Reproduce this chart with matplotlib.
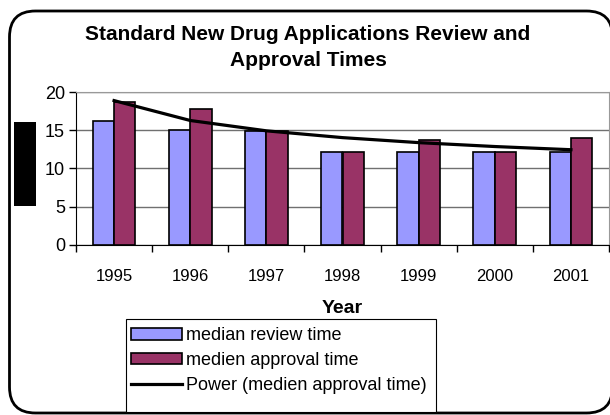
import numpy as np
import matplotlib
matplotlib.use("Agg")
from matplotlib import pyplot as plt
from matplotlib.patches import FancyBboxPatch, Rectangle, Patch
from matplotlib.lines import Line2D
from matplotlib.transforms import IdentityTransform

plt.rcParams['font.family'] = ['Liberation Sans', 'DejaVu Sans']

years = ["1995", "1996", "1997", "1998", "1999", "2000", "2001"]
review_time = [16.2, 15.1, 14.9, 12.1, 12.1, 12.1, 12.1]
approval_time = [18.7, 17.8, 14.9, 12.1, 13.7, 12.1, 14.0]

W, H = 610, 415
fig = plt.figure(figsize=(W / 100, H / 100), dpi=100)

# rounded chart frame
frame = FancyBboxPatch((9.5, 2), 603, 402, boxstyle="round,pad=0,rounding_size=26",
                       transform=IdentityTransform(), facecolor="white",
                       edgecolor="black", linewidth=2, zorder=-5)
fig.patches.append(frame)

ax = fig.add_axes([76 / W, 1 - 244.7 / H, 533 / W, (244.7 - 92.3) / H])
ax.set_facecolor("white")

x = np.arange(len(years))
w = 0.28
ax.bar(x - w / 2, review_time, w, color="#9999FF", edgecolor="black", linewidth=1.2, zorder=3)
ax.bar(x + w / 2, approval_time, w, color="#993366", edgecolor="black", linewidth=1.2, zorder=3)

# power trendline y = a * n^b fitted on approval times
n = x + 1
b, lna = np.polyfit(np.log(n), np.log(approval_time), 1)
trend = np.exp(lna) * n ** b
ax.plot(x, trend, color="black", linewidth=2.3, zorder=4)

ax.set_xlim(-0.5, 6.5)
ax.set_ylim(0, 20)
ax.set_yticks([0, 5, 10, 15, 20])
ax.yaxis.grid(True, color="#707070", linewidth=1, zorder=0)
ax.set_axisbelow(True)
ax.set_xticks(x)
ax.set_xticklabels(years)
ax.set_xticks(np.arange(-0.5, 7, 1), minor=True)
ax.tick_params(axis="x", which="major", length=0, pad=17.5, labelsize=12)
ax.tick_params(axis="x", which="minor", length=5, direction="out", width=1)
ax.tick_params(axis="y", length=5, direction="out", width=1, labelsize=13, pad=3)
for side in ("top", "right"):
    ax.spines[side].set_color("#999999")
for side in ("left", "bottom"):
    ax.spines[side].set_color("black")

fig.text(308 / W, 1 - 35 / H, "Standard New Drug Applications Review and",
         ha="center", va="center", fontsize=15, fontweight="bold")
fig.text(308 / W, 1 - 61 / H, "Approval Times",
         ha="center", va="center", fontsize=15, fontweight="bold")
fig.text(342 / W, 1 - 308 / H, "Year", ha="center", va="center",
         fontsize=14, fontweight="bold")

# blacked-out axis title
fig.patches.append(Rectangle((14, H - 206), 22, 84, transform=IdentityTransform(),
                             facecolor="black", edgecolor="none"))

# legend box runs down into the chart frame
fig.patches.append(Rectangle((126, 3), 310, H - 319 - 3, transform=IdentityTransform(),
                             facecolor="white", edgecolor="black", linewidth=0.8))

handles = [Patch(facecolor="#9999FF", edgecolor="black", linewidth=1.2),
           Patch(facecolor="#993366", edgecolor="black", linewidth=1.2),
           Line2D([0], [0], color="black", linewidth=2.3)]
labels = ["median review time", "medien approval time", "Power (medien approval time)"]
leg = fig.legend(handles, labels, loc="upper left", bbox_to_anchor=(126 / W, 1 - 322 / H),
                 fontsize=13, frameon=False, borderaxespad=0,
                 handlelength=2.8, handleheight=0.6, handletextpad=0.2,
                 labelspacing=0.42, borderpad=0.3)

fig.savefig("out.png", dpi=100)
